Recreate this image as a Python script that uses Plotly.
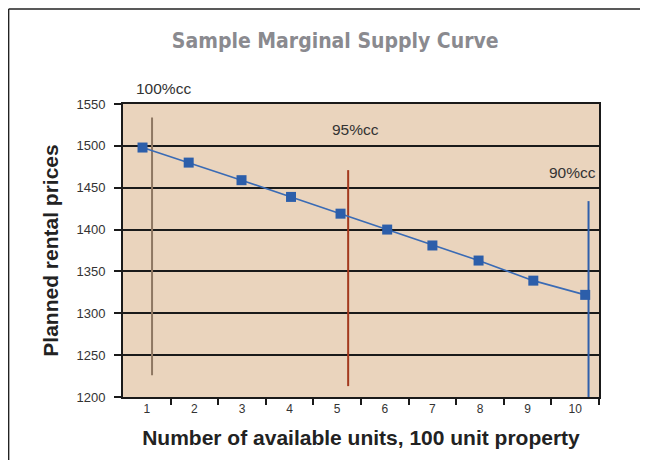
import plotly.graph_objects as go

# Data
units = [0.91, 1.88, 2.99, 4.03, 5.07, 6.05, 7.00, 7.97, 9.12, 10.21]
prices = [1498, 1480, 1459, 1439, 1419, 1400, 1381, 1363, 1339, 1322]
tick_labels = ["1", "2", "3", "4", "5", "6", "7", "8", "9", "10"]
tick_positions = [1, 2, 3, 4, 5, 6, 7, 8, 9, 10]

cc_names = ["100%cc", "95%cc", "90%cc"]
cc_x = [1.11, 5.23, 10.28]
cc_top = [1534, 1471, 1434]
cc_bottom = [1226, 1213, 1200]
cc_colors = ["#8E7762", "#A3391E", "#2F5FAB"]
cc_label_x = [1.35, 5.38, 9.95]
cc_label_y = [1569, 1519, 1468]

Y_MIN, Y_MAX = 1200, 1550

fig = go.Figure()

for i in range(3):
    fig.add_trace(go.Scatter(
        x=[cc_x[i], cc_x[i]], y=[cc_bottom[i], cc_top[i]],
        mode="lines", line=dict(color=cc_colors[i], width=2),
        showlegend=False, hoverinfo="skip", cliponaxis=False))

fig.add_trace(go.Scatter(
    x=units, y=prices, mode="lines+markers",
    line=dict(color="#3A6BB5", width=1.6),
    marker=dict(symbol="square", size=10, color="#2C5EAA"),
    showlegend=False, cliponaxis=False))

for i in range(3):
    yp = (cc_label_y[i] - Y_MIN) / (Y_MAX - Y_MIN)
    fig.add_annotation(x=cc_label_x[i], y=yp, text=cc_names[i],
                       showarrow=False, xref="x", yref="paper",
                       xanchor="center", yanchor="middle",
                       font=dict(family="Liberation Sans, Arial", size=15.5, color="#333333"))

fig.update_layout(
    width=648, height=460,
    margin=dict(l=115, r=57, t=96, b=71, autoexpand=False),
    paper_bgcolor="white",
    plot_bgcolor="#EAD4BD",
    title=dict(text="<b>Sample Marginal Supply Curve</b>", x=0.505, xanchor="center",
               y=0.93, yanchor="middle",
               font=dict(family="Liberation Sans Narrow, DejaVu Sans Condensed, Arial",
                         size=21, color="#8A8A8F")),
    font=dict(family="Liberation Sans, Arial", color="#333333"),
)

fig.update_xaxes(
    range=[0.5, 10.5], tickvals=tick_positions, ticktext=tick_labels,
    ticks="", showgrid=False, zeroline=False, automargin=False,
    showline=True, linecolor="#1a1a1a", linewidth=2, mirror=True,
    tickfont=dict(size=12, color="#333333"),
    minor=dict(tickvals=[1.5, 2.5, 3.5, 4.5, 5.5, 6.5, 7.5, 8.5, 9.5, 10.5],
               ticks="outside", ticklen=6, tickcolor="#1a1a1a", tickwidth=2, showgrid=False),
    title=dict(text="<b>Number of available units, 100 unit property</b>",
               font=dict(family="Liberation Sans, Arial", size=21, color="#222222"), standoff=15),
)

fig.update_yaxes(
    range=[Y_MIN, Y_MAX], dtick=50, tick0=1200,
    showgrid=True, gridcolor="#1a1a1a", gridwidth=2, zeroline=False, automargin=False,
    showline=True, linecolor="#1a1a1a", linewidth=2, mirror=True,
    ticks="outside", ticklen=7, tickcolor="#1a1a1a", tickwidth=2,
    ticklabelstandoff=6,
    tickfont=dict(size=13, color="#333333"),
    title=dict(text="<b>Planned rental prices</b>",
               font=dict(family="Liberation Sans, Arial", size=21, color="#222222"), standoff=12),
)

# outer frame (top and left)
fig.add_shape(type="line", xref="paper", yref="paper", x0=-0.2403, x1=1.2, y0=1.3244, y1=1.3244,
              line=dict(color="#222222", width=1.5))
fig.add_shape(type="line", xref="paper", yref="paper", x0=-0.2403, x1=-0.2403, y0=1.3244, y1=-0.3,
              line=dict(color="#222222", width=1.5))

fig.write_html("out.html")
